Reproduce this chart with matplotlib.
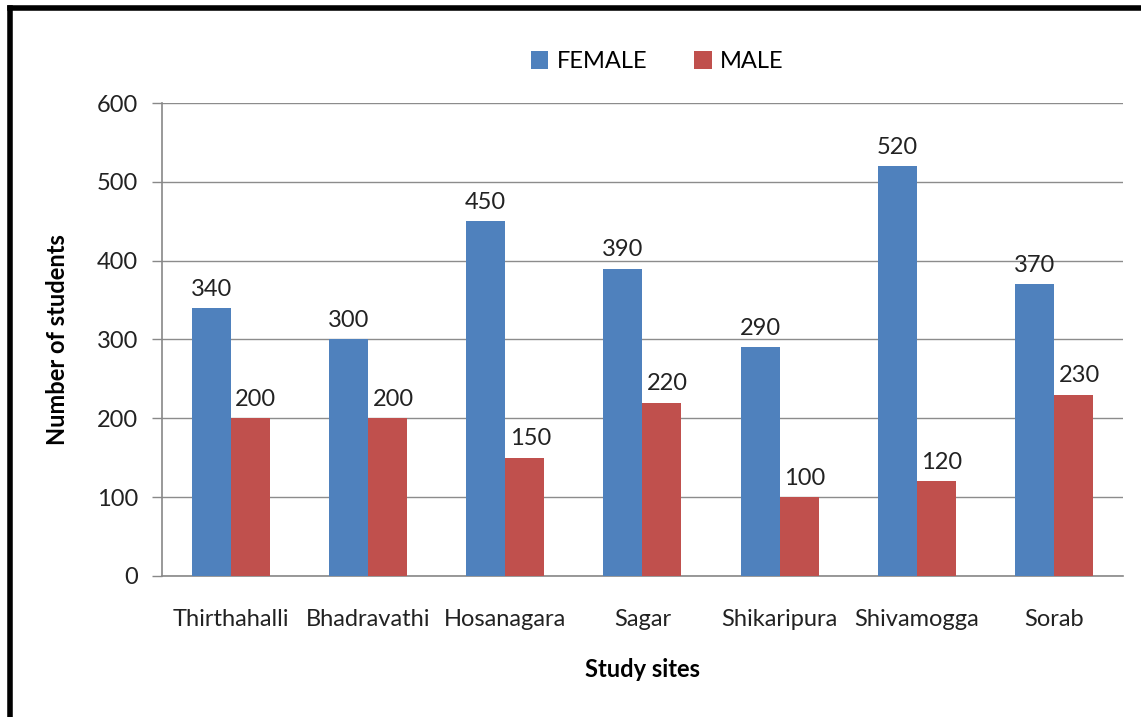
import matplotlib
matplotlib.use("Agg")
import matplotlib.pyplot as plt
import numpy as np
from matplotlib.lines import Line2D

categories = ["Thirthahalli", "Bhadravathi", "Hosanagara", "Sagar", "Shikaripura", "Shivamogga", "Sorab"]
female = [340, 300, 450, 390, 290, 520, 370]
male = [200, 200, 150, 220, 100, 120, 230]
yticks = [0, 100, 200, 300, 400, 500, 600]

plt.rcParams['font.family'] = ['Lato', 'DejaVu Sans']
FS = 17

fig = plt.figure(figsize=(11.41, 7.17), dpi=100)
ax = fig.add_axes([0.142, 0.1967, 0.842, 0.6596])

x = np.arange(len(categories))
w = 0.285
b1 = ax.bar(x - w/2, female, w, color='#4F81BD', label='FEMALE', zorder=3)
b2 = ax.bar(x + w/2, male, w, color='#C0504D', label='MALE', zorder=3)

for rects, vals, dx in ((b1, female, 0), (b2, male, 4)):
    for r, v in zip(rects, vals):
        ax.annotate(f"{v}", (r.get_x() + r.get_width()/2, v), xytext=(dx, 6),
                    textcoords='offset points', ha='center', va='bottom',
                    fontsize=FS, color='#222222')

ax.set_xlim(-0.5, len(categories) - 0.5)
ax.set_ylim(0, 600)
ax.set_yticks(yticks)
ax.set_yticklabels([str(t) for t in yticks], fontsize=FS, color='#222222')
ax.set_xticks(x)
ax.set_xticklabels(categories, fontsize=FS, color='#222222')
ax.tick_params(axis='x', length=0, pad=24)
ax.tick_params(axis='y', length=7.2, width=1, color='#888888', pad=10)
ax.yaxis.grid(True, color='#8c8c8c', linewidth=1, zorder=0)
ax.set_axisbelow(True)
for s in ('top', 'right'):
    ax.spines[s].set_visible(False)
for s in ('left', 'bottom'):
    ax.spines[s].set_color('#888888')
    ax.spines[s].set_linewidth(1.2)

ax.set_ylabel("Number of students", fontsize=FS, fontweight='bold', labelpad=20)
ax.set_xlabel("Study sites", fontsize=FS, fontweight='bold', labelpad=20)

fig.legend(handles=[b1, b2], labels=['FEMALE', 'MALE'], loc='center',
           bbox_to_anchor=(0.576, 0.914), ncol=2, frameon=False, fontsize=FS,
           handlelength=0.75, handleheight=0.75, handletextpad=0.35, columnspacing=2.0)

# outer border (left and top)
fig.add_artist(Line2D([0.0092, 0.0092], [0.0, 0.9885], transform=fig.transFigure,
                      color='black', linewidth=4, solid_capstyle='projecting'))
fig.add_artist(Line2D([0.0092, 1.0], [0.9885, 0.9885], transform=fig.transFigure,
                      color='black', linewidth=4, solid_capstyle='projecting'))

fig.savefig("out.png", dpi=100)
